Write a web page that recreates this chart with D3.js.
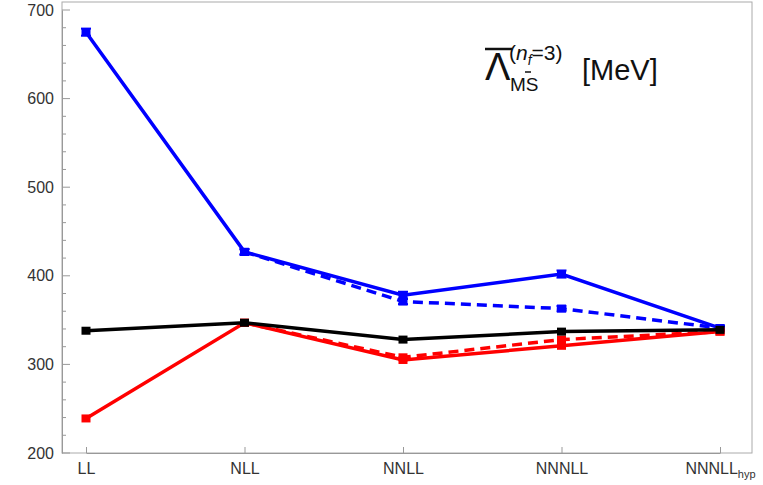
<!DOCTYPE html>
<html><head><meta charset="utf-8">
<script src="https://cdn.jsdelivr.net/npm/d3@7"></script>
<style>body{margin:0;background:#fff}svg{font-family:"Liberation Sans",Arial,sans-serif}</style>
</head><body><div id="chart"></div>
<script>
const orders = ["LL","NLL","NNLL","NNNLL","NNNLL_hyp"];
const blueSolid = [675, 427, 378, 402, 341];
const blueSolidErr = [4, 3, 4, 4, 2];
const blueDashed = [null, 427, 371, 363, 341];
const blueDashedErr = [0, 3, 3, 3, 2];
const blackSolid = [338, 347, 328, 337, 339];
const redSolid = [239, 347, 305, 321, 337];
const redDashed = [null, 347, 308, 328, 337];
const yTicks = [200, 300, 400, 500, 600, 700];

const width = 763, height = 485;
const svg = d3.select("#chart").append("svg").attr("width", width).attr("height", height);
const x = d3.scalePoint().domain(orders).range([86, 720]);
const y = d3.scaleLinear().domain([200, 700]).range([453, 10]);

// frame
svg.append("rect").attr("x", 62).attr("y", 2).attr("width", 690).attr("height", 451)
  .attr("fill", "none").attr("stroke", "#aaa").attr("stroke-width", 1);

const yAxis = svg.append("g").attr("transform", "translate(62,0)")
  .call(d3.axisLeft(y).tickValues(yTicks).tickSize(0).tickPadding(8));
yAxis.select(".domain").attr("stroke", "#999");
yAxis.selectAll("text").attr("font-size", 16).attr("fill", "#333");
// minor ticks
svg.selectAll(".ytick").data(d3.range(200, 701, 20)).enter().append("line")
  .attr("x1", 62).attr("x2", d => d % 100 === 0 ? 70 : 66)
  .attr("y1", d => y(d)).attr("y2", d => y(d)).attr("stroke", "#999");

const xAxis = svg.append("g").attr("transform", "translate(0,453)")
  .call(d3.axisBottom(x).tickSize(0).tickPadding(10).tickFormat(() => ""));
xAxis.select(".domain").attr("stroke", "#999");
xAxis.selectAll(".tick").each(function(d){
  const t = d3.select(this).append("text").attr("y", 21).attr("fill", "#333")
    .attr("font-size", 16).attr("text-anchor", "middle");
  if (d === "NNNLL_hyp") {
    t.append("tspan").text("NNNLL");
    t.append("tspan").attr("font-size", 11).attr("dy", 4).text("hyp");
  } else t.text(d);
  d3.select(this).append("line").attr("y1", 0).attr("y2", -6).attr("stroke", "#999");
});

function series(vals, errs, color, dashed, w) {
  const pts = orders.map((o, i) => ({o, v: vals[i], e: errs ? errs[i] : 0})).filter(p => p.v != null);
  svg.append("path").datum(pts)
    .attr("d", d3.line().x(p => x(p.o)).y(p => y(p.v)))
    .attr("fill", "none").attr("stroke", color).attr("stroke-width", w)
    .attr("stroke-dasharray", dashed ? "10,6" : null);
  const g = svg.append("g");
  pts.forEach(p => {
    g.append("rect").attr("x", x(p.o) - 4.5).attr("y", y(p.v) - 4)
      .attr("width", 9).attr("height", 8).attr("fill", color);
    if (p.e) {
      g.append("line").attr("x1", x(p.o)).attr("x2", x(p.o))
        .attr("y1", y(p.v + p.e)).attr("y2", y(p.v - p.e)).attr("stroke", color).attr("stroke-width", 2);
      [p.v + p.e, p.v - p.e].forEach(v => g.append("line")
        .attr("x1", x(p.o) - 5).attr("x2", x(p.o) + 5).attr("y1", y(v)).attr("y2", y(v))
        .attr("stroke", color).attr("stroke-width", 2));
    }
  });
}
series(blueDashed, blueDashedErr, "#0000ff", true, 3.5);
series(blueSolid, blueSolidErr, "#0000ff", false, 3.5);
series(redDashed, null, "#ff0000", true, 3.5);
series(redSolid, null, "#ff0000", false, 3.5);
series(blackSolid, null, "#000", false, 3.5);

// label
const lab = svg.append("g").attr("transform", "translate(485,80)");
lab.append("text").attr("font-size", 38).attr("fill", "#111").text("Λ");
lab.append("line").attr("x1", 0).attr("x2", 27).attr("y1", -31).attr("y2", -31).attr("stroke", "#111").attr("stroke-width", 2.5);
lab.append("text").attr("x", 24).attr("y", -20).attr("font-size", 21).attr("fill", "#111")
  .html('(<tspan font-style="italic">n</tspan><tspan font-style="italic" font-size="14" dy="5">f</tspan><tspan dy="-5">=3)</tspan>');
lab.append("text").attr("x", 25).attr("y", 11).attr("font-size", 19).attr("fill", "#111").text("MS");
lab.append("line").attr("x1", 40).attr("x2", 46).attr("y1", -8).attr("y2", -8).attr("stroke", "#111").attr("stroke-width", 1.5);
lab.append("text").attr("x", 97).attr("y", 0).attr("font-size", 29).attr("fill", "#111").text("[MeV]");
</script></body></html>
